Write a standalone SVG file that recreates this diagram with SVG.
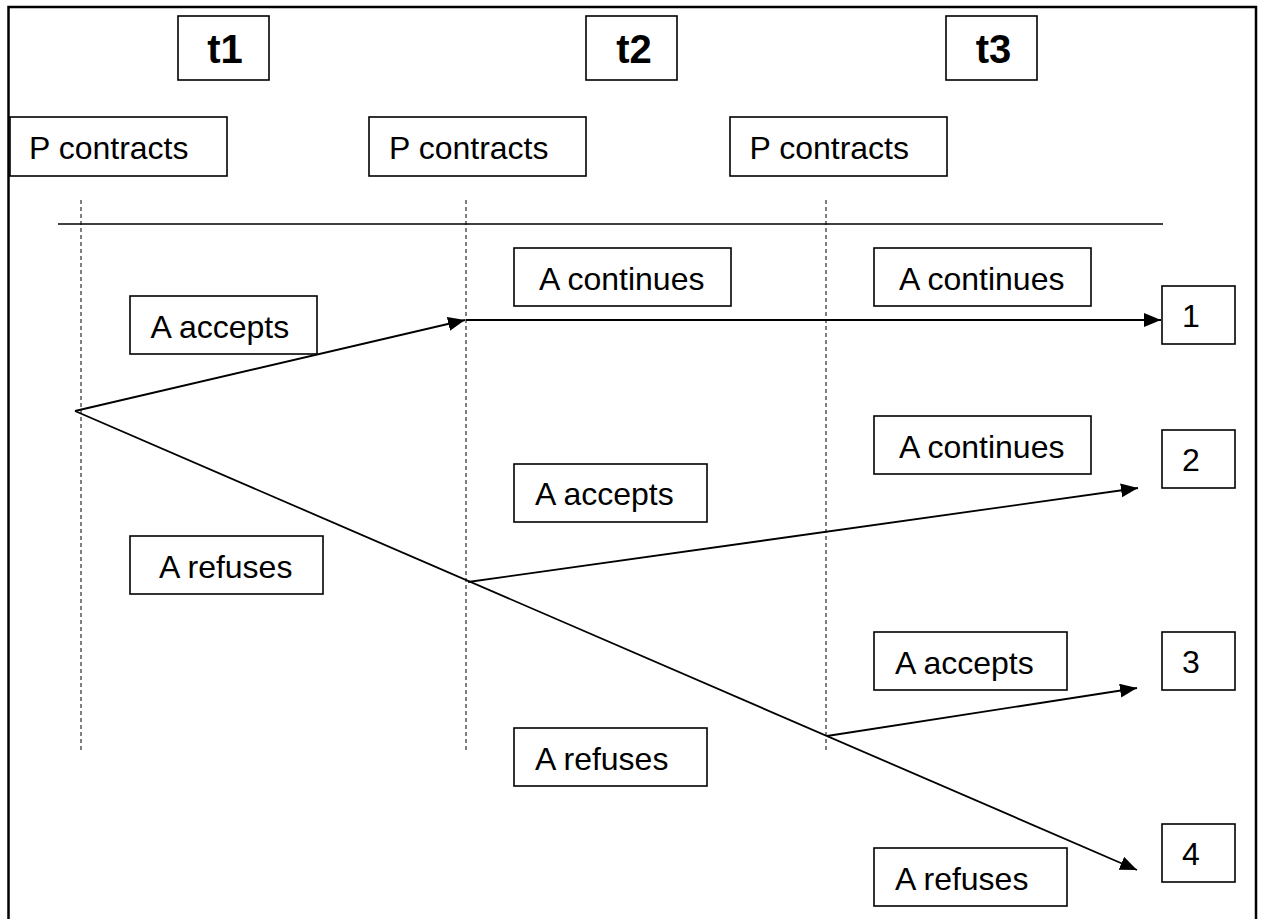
<svg xmlns="http://www.w3.org/2000/svg" width="1261" height="919" viewBox="0 0 1261 919">
<style>
.box{fill:#fff;stroke:#000;stroke-width:1.6}
.lbl{font-family:"Liberation Sans",Arial,sans-serif;font-size:32px;fill:#000}
.hd{font-family:"Liberation Sans",Arial,sans-serif;font-size:40px;font-weight:bold;fill:#000;text-anchor:middle}
.num{font-family:"Liberation Sans",Arial,sans-serif;font-size:32px;fill:#000;text-anchor:middle}
.edge{stroke:#000;stroke-width:1.8;fill:none}
.dash{stroke:#000;stroke-width:1;stroke-dasharray:4 3;fill:none}
</style>
<defs>
<marker id="arr" markerUnits="userSpaceOnUse" markerWidth="18" markerHeight="15" refX="17" refY="7" orient="auto">
<path d="M0,0 L17,7 L0,14 z" fill="#000"/>
</marker>
</defs>
<rect x="0" y="0" width="1261" height="919" fill="#fff"/>
<rect x="8.5" y="7" width="1247.5" height="940" fill="none" stroke="#000" stroke-width="2.5"/>

<g id="guides">
<line x1="58" y1="224" x2="1163" y2="224" stroke="#000" stroke-width="1.6"/>
<line class="dash" x1="81" y1="200" x2="81" y2="752"/>
<line class="dash" x1="466" y1="200" x2="466" y2="752"/>
<line class="dash" x1="826" y1="200" x2="826" y2="752"/>
</g>

<g id="t1"><rect class="box" x="178" y="16" width="91" height="64"/><text class="hd" x="225" y="62.5">t1</text></g>
<g id="t2"><rect class="box" x="586" y="16" width="91" height="64"/><text class="hd" x="634" y="62.5">t2</text></g>
<g id="t3"><rect class="box" x="946" y="16" width="91" height="64"/><text class="hd" x="993.5" y="62.5">t3</text></g>

<g id="pc1"><rect class="box" x="10" y="117" width="217" height="59"/><text class="lbl" x="29" y="158.5">P contracts</text></g>
<g id="pc2"><rect class="box" x="369" y="117" width="217" height="59"/><text class="lbl" x="389" y="158.5">P contracts</text></g>
<g id="pc3"><rect class="box" x="730" y="117" width="217" height="59"/><text class="lbl" x="749.5" y="158.5">P contracts</text></g>

<g id="connectors">
<line class="edge" x1="75" y1="411" x2="465" y2="320" marker-end="url(#arr)"/>
<line class="edge" x1="466" y1="320" x2="1161" y2="320" marker-end="url(#arr)"/>
<line class="edge" x1="75" y1="411" x2="1137" y2="870" marker-end="url(#arr)"/>
<line class="edge" x1="468" y1="582" x2="1138" y2="488" marker-end="url(#arr)"/>
<line class="edge" x1="827" y1="736" x2="1137" y2="688" marker-end="url(#arr)"/>
</g>

<g id="accept1"><rect class="box" x="130" y="296" width="187" height="58"/><text class="lbl" x="150.5" y="337.5">A accepts</text></g>
<g id="refuse1"><rect class="box" x="130" y="536" width="193" height="58"/><text class="lbl" x="159" y="577.5">A refuses</text></g>
<g id="continue2"><rect class="box" x="514" y="248" width="217" height="58"/><text class="lbl" x="539" y="290">A continues</text></g>
<g id="accept2"><rect class="box" x="514" y="464" width="193" height="58"/><text class="lbl" x="535" y="504.5">A accepts</text></g>
<g id="refuse2"><rect class="box" x="514" y="728" width="193" height="58"/><text class="lbl" x="535" y="770">A refuses</text></g>
<g id="continue3a"><rect class="box" x="874" y="248" width="217" height="58"/><text class="lbl" x="899" y="290">A continues</text></g>
<g id="continue3b"><rect class="box" x="874" y="416" width="217" height="58"/><text class="lbl" x="899" y="458">A continues</text></g>
<g id="accept3"><rect class="box" x="874" y="632" width="193" height="58"/><text class="lbl" x="895" y="674">A accepts</text></g>
<g id="refuse3"><rect class="box" x="874" y="848" width="193" height="58"/><text class="lbl" x="895" y="890">A refuses</text></g>

<g id="out1"><rect class="box" x="1162" y="286" width="73" height="58"/><text class="num" x="1191" y="327">1</text></g>
<g id="out2"><rect class="box" x="1162" y="430" width="73" height="58"/><text class="num" x="1191" y="471">2</text></g>
<g id="out3"><rect class="box" x="1162" y="632" width="73" height="58"/><text class="num" x="1191" y="673">3</text></g>
<g id="out4"><rect class="box" x="1162" y="824" width="73" height="58"/><text class="num" x="1191" y="865">4</text></g>
</svg>
